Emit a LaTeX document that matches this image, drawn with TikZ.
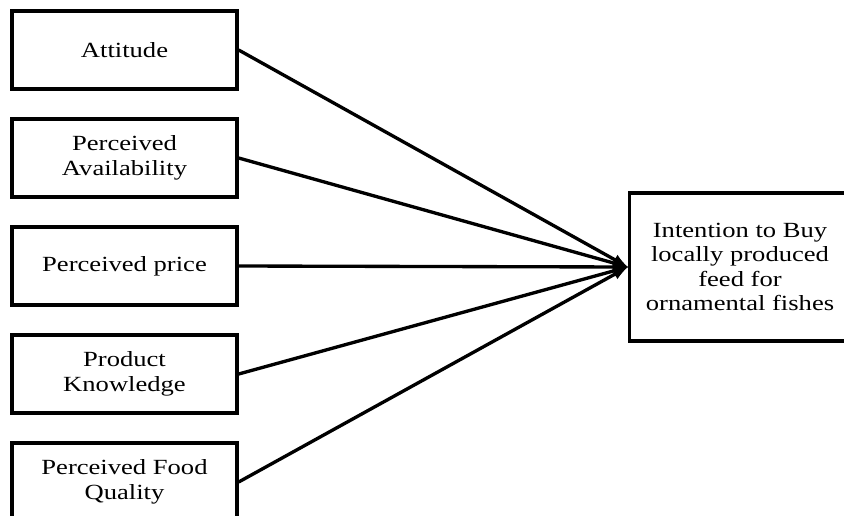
\documentclass[tikz,border=0pt]{standalone}
\usepackage{fontspec}
\setmainfont{Liberation Serif}[FakeStretch=1.23]
\usepackage{tikz}
\tikzset{>=latex}

\begin{document}
\begin{tikzpicture}[
    factor/.style={draw, line width=1.9pt, minimum width=4.5cm, minimum height=1.56cm,
      align=center, font=\fontsize{12.3}{14}\selectfont},
    link/.style={line width=1.9pt, ->}]
      \useasboundingbox (0, 0) rectangle (16.88, -10.3);
      \clip (0, 0) rectangle (16.88, -10.3);
      \node[factor] (att) at (2.49, -1.0) {Attitude};
      \node[factor] (avail) at (2.49, -3.16) {Perceived\\Availability};
      \node[factor] (price) at (2.49, -5.32) {Perceived price};
      \node[factor] (know) at (2.49, -7.48) {Product\\Knowledge};
      \node[factor] (qual) at (2.49, -9.64) {Perceived Food\\Quality};
      \node[factor, minimum width=4.42cm, minimum height=2.96cm] (intent) at (14.8, -5.34)
        {Intention to Buy\\locally produced\\feed for\\ornamental fishes};
      \foreach \src in {att, avail, price, know, qual}
        \draw[link] (\src.east) -- (intent.west);
    \end{tikzpicture}
\end{document}
